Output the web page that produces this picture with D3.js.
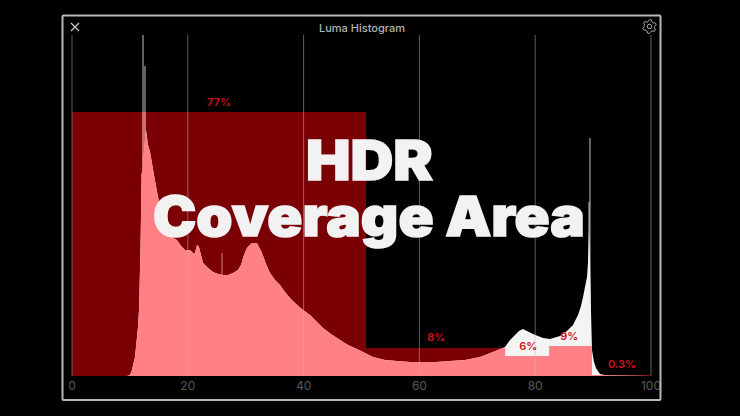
<!DOCTYPE html>
<html><head><meta charset="utf-8">
<script src="https://cdn.jsdelivr.net/npm/d3@7/dist/d3.min.js"></script>
<style>html,body{margin:0;padding:0;background:#000;overflow:hidden}svg{display:block}</style>
</head><body><svg id="c" width="740" height="416"></svg>
<script>
const title = "Luma Histogram";
const overlayLines = ["HDR", "Coverage Area"];
const tickValues = [0, 20, 40, 60, 80, 100];
const lumaValues = [9.5,10.02,10.36,10.88,11.4,11.57,11.83,11.92,12.02,12.18,12.44,12.78,13.13,13.47,14.16,14.85,15.72,16.58,17.44,18.13,18.83,19.52,20.38,20.9,21.24,21.59,21.93,22.63,23.49,24.35,25.22,26.08,26.94,27.81,28.67,29.19,29.71,30.22,31.09,31.95,32.82,33.51,34.2,35.06,35.92,36.79,37.65,38.69,39.9,41.11,42.14,43.35,44.73,46.29,47.67,49.22,50.6,51.99,54.06,56.13,58.38,60.62,62.87,65.28,67.88,70.47,72.71,74.78,75.65,76.51,77.2,77.89,78.58,79.62,80.48,81.35,82.56,84.28,85.49,86.53,87.39,87.91,88.26,88.6,88.95,89.12,89.29,89.46,89.63,89.81,90.16,90.5,91.19,92.4,100];
const levelValues = [0,1,6,19,49,66,126,161,203,203,226,246,231,224,201,179,158,146,138,136,130,126,126,123,123,131,129,113,108,104,102,101,101,103,106,111,121,128,133,133,123,112,103,96,91,84,78,72,66,61,55,48,42,36,31,27,23,19,16,15,14,14,14,15,16,19,24,29,36,41,45,47,45,42,40,38,37,40,45,51,61,70,79,89,99,114,146,118,66,26,14,8,2,0.5,0];
const spikeLuma = [12.26,12.61,25.91,89.29,89.46];
const spikeLevel = [341,310,123,174,238];
const zoneStart = [0,50.8,74.8,82.4,89.8];
const zoneEnd = [50.8,74.8,82.4,89.8,100];
const zoneLevel = [264,28,20,30,1];
const zoneLabels = ["77%","8%","6%","9%","0.3%"];
const labelLuma = [25.4,62.9,78.8,85.9,95];
const labelLevel = [273,38,29,39,11];

const x = d3.scaleLinear().domain([0,100]).range([72,651]);
const y = d3.scaleLinear().domain([0,341]).range([376,35]);
const svg = d3.select("#c");
svg.append("rect").attr("width",740).attr("height",416).attr("fill","#000");

const hist = lumaValues.map((l,i)=>({l,v:levelValues[i]}));
const zones = zoneStart.map((s,i)=>({s,e:zoneEnd[i],v:zoneLevel[i]}));
const spikes = spikeLuma.map((l,i)=>({l,v:spikeLevel[i]}));
const area = d3.area().x(d=>x(d.l)).y0(y(0)).y1(d=>y(d.v));

svg.append("defs").append("clipPath").attr("id","zoneClip").selectAll("rect").data(zones).join("rect")
  .attr("x",d=>x(d.s)).attr("width",d=>x(d.e)-x(d.s)).attr("y",d=>y(d.v)).attr("height",d=>y(0)-y(d.v));

svg.append("g").selectAll("rect").data(zones).join("rect")
  .attr("x",d=>x(d.s)).attr("width",d=>x(d.e)-x(d.s)).attr("y",d=>y(d.v)).attr("height",d=>y(0)-y(d.v))
  .attr("fill","#7a0005");

function drawHist(g,col){
  g.append("path").datum(hist).attr("d",area).attr("fill",col);
  g.selectAll("line").data(spikes).join("line")
    .attr("x1",d=>x(d.l)).attr("x2",d=>x(d.l)).attr("y1",y(0)).attr("y2",d=>y(d.v))
    .attr("stroke",col).attr("stroke-width",1).attr("stroke-opacity",d=>d.v<130?0.4:0.8);
}
drawHist(svg.append("g"),"#f4f4f4");
drawHist(svg.append("g").attr("clip-path","url(#zoneClip)"),"#ff8085");

svg.append("g").selectAll("line").data(tickValues).join("line")
  .attr("x1",d=>x(d)).attr("x2",d=>x(d)).attr("y1",y(341)).attr("y2",y(0))
  .attr("stroke","#bdbdbd").attr("stroke-opacity",0.5).attr("stroke-width",1);

svg.append("g").selectAll("text").data(tickValues).join("text")
  .attr("x",d=>x(d)).attr("y",390).attr("text-anchor","middle")
  .attr("font-family","Inter, Roboto, sans-serif").attr("font-size",12).attr("fill","#5a5a52").text(d=>d);

svg.append("g").selectAll("text").data(zoneLabels).join("text")
  .attr("x",(d,i)=>x(labelLuma[i])).attr("y",(d,i)=>y(labelLevel[i])).attr("text-anchor","middle").attr("dominant-baseline","middle")
  .attr("font-family","Inter, Roboto, sans-serif").attr("font-weight",600).attr("font-size",11).attr("fill","#cf0f1e").text(d=>d);

svg.append("text").attr("x",362).attr("y",32).attr("text-anchor","middle")
  .attr("font-family","Inter, Roboto, sans-serif").attr("font-weight",500).attr("font-size",11).attr("fill","#b4b4b4").text(title);

// close icon
svg.append("path").attr("d","M71 23L79 31M79 23L71 31").attr("stroke","#cfcfcf").attr("stroke-width",1.1).attr("fill","none");
// gear icon
const gear = d3.lineRadial().curve(d3.curveCardinalClosed.tension(0.4))
  .angle(d=>d[0]).radius(d=>d[1]);
const gearPts = d3.range(24).map(i=>[i*Math.PI/12, (i%4===0||i%4===1)?6.8:5.2]);
svg.append("path").attr("transform","translate(649.5,26.5)").attr("d",gear(gearPts)).attr("fill","none").attr("stroke","#b5b5b5").attr("stroke-width",1);
svg.append("circle").attr("cx",649.5).attr("cy",26.5).attr("r",2.2).attr("fill","none").attr("stroke","#b5b5b5").attr("stroke-width",1);

// frame
svg.append("rect").attr("x",62.5).attr("y",15.5).attr("width",598).attr("height",384.5).attr("rx",1)
  .attr("fill","none").attr("stroke","#b8b8b8").attr("stroke-width",2);

// overlay
const ov = svg.append("g").attr("font-family","'Inter','Open Sans',sans-serif").attr("font-weight",900)
  .attr("fill","#f3f2f3").attr("stroke","#f3f2f3").attr("stroke-width",1.5).attr("text-anchor","middle");
ov.append("text").attr("x",369.5).attr("y",180).attr("font-size",55).attr("textLength",127).attr("lengthAdjust","spacingAndGlyphs").text(overlayLines[0]);
ov.append("text").attr("x",369).attr("y",236).attr("font-size",55).attr("textLength",432).attr("lengthAdjust","spacingAndGlyphs").text(overlayLines[1]);
</script></body></html>
